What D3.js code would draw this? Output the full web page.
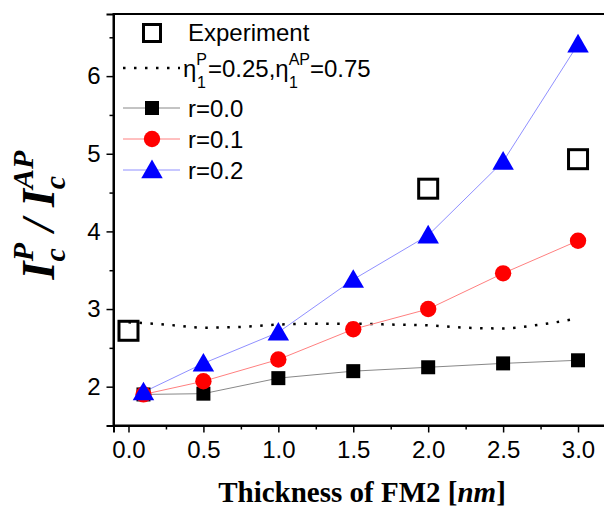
<!DOCTYPE html>
<html>
<head>
<meta charset="utf-8">
<script src="https://d3js.org/d3.v7.min.js"></script>
<style>
  body { margin: 0; background: #fff; }
  text { font-family: Arial, "Liberation Sans", sans-serif; }
</style>
</head>
<body>
<svg id="chart" width="604" height="510"></svg>
<script>
// values
var thick = [0.1, 0.5, 1.0, 1.5, 2.0, 2.5, 3.0];
var r00 = [1.90, 1.91, 2.11, 2.20, 2.25, 2.30, 2.34];
var r01 = [1.90, 2.07, 2.35, 2.74, 3.00, 3.46, 3.88];
var r02 = [1.93, 2.30, 2.70, 3.38, 3.95, 4.90, 6.41];
var expX = [0.0, 2.0, 3.0];
var expY = [2.72, 4.55, 4.93];
var etaX = [0.0, 0.25, 0.5, 0.75, 1.0, 1.25, 1.5, 1.75, 2.0, 2.25, 2.5, 2.75, 3.0];
var etaY = [2.83, 2.80, 2.76, 2.77, 2.80, 2.81, 2.81, 2.80, 2.79, 2.76, 2.75, 2.80, 2.88];
var xTicks = [0.0, 0.5, 1.0, 1.5, 2.0, 2.5, 3.0];
var yTicks = [2, 3, 4, 5, 6];

var svg = d3.select("#chart");
var mLeft = 113.5, mTop = 14, mBottom = 425.5, mRight = 608;

var x = d3.scaleLinear([-0.1, 3.2], [mLeft, mRight]);
var y = d3.scaleLinear([1.5, 6.8], [mBottom, mTop]);

// frame
svg.append("rect").attr("x", mLeft).attr("y", mTop)
  .attr("width", mRight - mLeft).attr("height", mBottom - mTop)
  .attr("fill", "none").attr("stroke", "#000").attr("stroke-width", 2);

// x axis
svg.append("g").attr("transform", "translate(0," + mBottom + ")")
  .call(d3.axisBottom(x).tickValues(xTicks).tickFormat(d3.format(".1f")).tickSize(7).tickPadding(8));
svg.append("g").attr("transform", "translate(0," + mBottom + ")")
  .call(d3.axisBottom(x).tickValues(d3.range(0.25, 3.1, 0.5)).tickFormat("").tickSize(4))
  .select(".domain").remove();
// y axis
svg.append("g").attr("transform", "translate(" + mLeft + ",0)")
  .call(d3.axisLeft(y).tickValues(yTicks).tickFormat(d3.format("d")).tickSize(7).tickPadding(6));
svg.append("g").attr("transform", "translate(" + mLeft + ",0)")
  .call(d3.axisLeft(y).tickValues([2.5, 3.5, 4.5, 5.5, 6.5]).tickFormat("").tickSize(4))
  .select(".domain").remove();
svg.selectAll(".domain").attr("stroke-width", 2);
svg.selectAll(".tick line").attr("stroke-width", 1.5);
svg.selectAll(".tick text").attr("font-size", 24).attr("font-family", "Arial, 'Liberation Sans', sans-serif").attr("fill", "#000");

// axis titles
svg.append("text").attr("x", 362).attr("y", 502).attr("text-anchor", "middle")
  .style("font-family", "'Liberation Serif', 'Times New Roman', serif")
  .attr("font-weight", "bold").attr("font-size", 29)
  .html('Thickness of FM2 [<tspan font-style="italic">nm</tspan>]');

var yl = svg.append("text").attr("transform", "translate(54,215) rotate(-90)")
  .attr("text-anchor", "middle")
  .style("font-family", "'Liberation Serif', 'Times New Roman', serif")
  .attr("font-weight", "bold").attr("font-style", "italic").attr("font-size", 46);
yl.append("tspan").text("I");
yl.append("tspan").attr("font-size", 30).attr("dy", 11).text("c");
yl.append("tspan").attr("font-size", 30).attr("dx", -13).attr("dy", -32).text("P");
yl.append("tspan").attr("dy", 21).text(" / I");
yl.append("tspan").attr("font-size", 30).attr("dy", 11).text("c");
yl.append("tspan").attr("font-size", 30).attr("dx", -13).attr("dy", -32).text("AP");

// dotted model curve
var line = d3.line().x(d => x(d[0])).y(d => y(d[1])).curve(d3.curveMonotoneX);
svg.append("path").datum(d3.zip(etaX, etaY)).attr("d", line)
  .attr("fill", "none").attr("stroke", "#000").attr("stroke-width", 2.5)
  .attr("stroke-dasharray", "2.5,8.5").attr("stroke-linecap", "butt");

var series = [
  { vals: r00, line: "#888", fill: "#000", shape: d3.symbolSquare, size: 196 },
  { vals: r01, line: "#ff8080", fill: "#ff0000", shape: d3.symbolCircle, size: 210 },
  { vals: r02, line: "#9090ff", fill: "#0000ff", shape: d3.symbolTriangle, size: 200 }
];
var lin = d3.line().x(d => x(d[0])).y(d => y(d[1]));
series.forEach(function (s) {
  svg.append("path").datum(d3.zip(thick, s.vals)).attr("d", lin)
    .attr("fill", "none").attr("stroke", s.line).attr("stroke-width", 1);
});
series.forEach(function (s) {
  svg.selectAll(null).data(d3.zip(thick, s.vals)).join("path")
    .attr("transform", d => "translate(" + x(d[0]) + "," + (y(d[1]) + (s.shape === d3.symbolTriangle ? 2 : 0)) + ")")
    .attr("d", d3.symbol(s.shape, s.size)).attr("fill", s.fill);
});

// experiment
svg.selectAll(null).data(d3.zip(expX, expY)).join("rect")
  .attr("x", d => x(d[0]) - 9.5).attr("y", d => y(d[1]) - 9.5)
  .attr("width", 19).attr("height", 19)
  .attr("fill", "none").attr("stroke", "#000").attr("stroke-width", 3);

// legend
var lg = svg.append("g");
var fs = 24;
lg.append("rect").attr("x", 143.5).attr("y", 24.5).attr("width", 17).attr("height", 17)
  .attr("fill", "none").attr("stroke", "#000").attr("stroke-width", 3);
lg.append("text").attr("x", 188).attr("y", 41).attr("font-size", fs).text("Experiment");

lg.append("line").attr("x1", 123).attr("x2", 180).attr("y1", 68).attr("y2", 68)
  .attr("stroke", "#000").attr("stroke-width", 2.5).attr("stroke-dasharray", "2.5,8.5");
var et = lg.append("text").attr("x", 183).attr("y", 77).attr("font-size", fs);
et.append("tspan").text("\u03b7");
et.append("tspan").attr("font-size", 16).attr("dy", -12).text("P");
et.append("tspan").attr("font-size", 16).attr("dx", -10).attr("dy", 23).text("1");
et.append("tspan").attr("dx", 2).attr("dy", -11).text("=0.25,\u03b7");
et.append("tspan").attr("font-size", 16).attr("dy", -12).text("AP");
et.append("tspan").attr("font-size", 16).attr("dx", -21).attr("dy", 23).text("1");
et.append("tspan").attr("dx", 12).attr("dy", -11).text("=0.75");

var names = ["r=0.0", "r=0.1", "r=0.2"];
var ly = [108, 139, 170];
series.forEach(function (s, i) {
  lg.append("line").attr("x1", 123).attr("x2", 180).attr("y1", ly[i]).attr("y2", ly[i])
    .attr("stroke", s.line).attr("stroke-width", 1);
  lg.append("path").attr("transform", "translate(152," + (ly[i] + (i === 2 ? 2 : 0)) + ")")
    .attr("d", d3.symbol(s.shape, s.size)).attr("fill", s.fill);
  lg.append("text").attr("x", 188).attr("y", ly[i] + 9).attr("font-size", fs).text(names[i]);
});
</script>
</body>
</html>
